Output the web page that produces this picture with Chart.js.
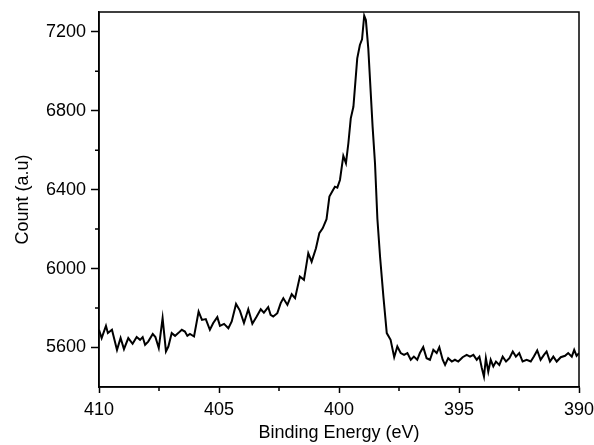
<!DOCTYPE html>
<html>
<head>
<meta charset="utf-8">
<script src="https://cdn.jsdelivr.net/npm/chart.js@4"></script>
<style>
  html, body { margin: 0; padding: 0; background: #fff; }
  #wrap { width: 594px; height: 445px; }
</style>
</head>
<body>
<div id="wrap"><canvas id="xps-chart" width="594" height="445"></canvas></div>
<script>
// binding energy (eV) and counts
const energies = [
  410.00, 409.89, 409.71, 409.63, 409.46, 409.25, 409.10, 408.96, 408.78, 408.60,
  408.43, 408.29, 408.18, 408.08, 407.95, 407.76, 407.65, 407.51, 407.35, 407.21,
  407.11, 406.97, 406.83, 406.70, 406.55, 406.42, 406.32, 406.21, 406.04, 405.85,
  405.71, 405.55, 405.38, 405.24, 405.07, 404.96, 404.79, 404.61, 404.47, 404.29,
  404.13, 403.96, 403.78, 403.61, 403.43, 403.26, 403.13, 402.95, 402.85, 402.74,
  402.57, 402.43, 402.32, 402.15, 401.97, 401.83, 401.63, 401.46, 401.28, 401.14,
  400.96, 400.82, 400.68, 400.52, 400.40, 400.26, 400.17, 400.07, 399.96, 399.82,
  399.71, 399.61, 399.51, 399.40, 399.24, 399.13, 399.04, 398.95, 398.88, 398.78,
  398.60, 398.50, 398.40, 398.29, 398.15, 398.01, 397.85, 397.70, 397.57, 397.43,
  397.29, 397.15, 397.01, 396.88, 396.74, 396.63, 396.49, 396.35, 396.21, 396.07,
  395.93, 395.82, 395.68, 395.58, 395.45, 395.30, 395.17, 395.03, 394.85, 394.68,
  394.54, 394.40, 394.26, 394.15, 394.05, 393.96, 393.88, 393.78, 393.68, 393.57,
  393.46, 393.32, 393.18, 393.04, 392.90, 392.76, 392.63, 392.49, 392.35, 392.18,
  392.01, 391.88, 391.74, 391.60, 391.46, 391.35, 391.21, 391.07, 390.93, 390.76,
  390.58, 390.45, 390.30, 390.20, 390.10, 390.00
];
const counts = [
  5690, 5648, 5710, 5674, 5690, 5588, 5648, 5592, 5648, 5619,
  5653, 5639, 5653, 5614, 5630, 5669, 5653, 5597, 5749, 5580,
  5605, 5673, 5659, 5673, 5690, 5681, 5659, 5669, 5656, 5782,
  5740, 5744, 5690, 5724, 5754, 5710, 5720, 5698, 5732, 5821,
  5787, 5724, 5794, 5720, 5757, 5794, 5777, 5805, 5766, 5757,
  5774, 5825, 5850, 5816, 5870, 5850, 5960, 5943, 6078, 6035,
  6103, 6179, 6204, 6250, 6365, 6395, 6415, 6410, 6449, 6571,
  6534, 6635, 6761, 6820, 7065, 7133, 7162, 7281, 7259, 7116,
  6719, 6534, 6251, 6061, 5858, 5673, 5639, 5551, 5605, 5572,
  5563, 5572, 5538, 5554, 5538, 5572, 5602, 5546, 5538, 5588,
  5572, 5602, 5538, 5512, 5546, 5529, 5538, 5529, 5551, 5563,
  5554, 5563, 5538, 5554, 5496, 5453, 5546, 5478, 5538, 5504,
  5529, 5512, 5554, 5529, 5546, 5580, 5554, 5572, 5529, 5538,
  5529, 5554, 5585, 5538, 5563, 5580, 5529, 5554, 5529, 5551,
  5558, 5572, 5554, 5588, 5558, 5572
];
const xTicks = [410, 405, 400, 395, 390];
const xMinorTicks = [407.5, 402.5, 397.5, 392.5];
const yTicks = [5600, 6000, 6400, 6800, 7200];
const yMinorTicks = [5800, 6200, 6600, 7000];

const font = { family: "'Liberation Sans', Arial, sans-serif", size: 18 };

// minor ticks + closed frame
const framePlugin = {
  id: "frame",
  afterDraw(chart) {
    const ctx = chart.ctx;
    const a = chart.chartArea;
    const xs = chart.scales.x;
    const ys = chart.scales.y;
    ctx.save();
    ctx.strokeStyle = "#000";
    ctx.lineWidth = 1.5;
    ctx.beginPath();
    xMinorTicks.forEach((v) => {
      const px = xs.getPixelForValue(v);
      ctx.moveTo(px, a.bottom);
      ctx.lineTo(px, a.bottom + 4);
    });
    yMinorTicks.forEach((v) => {
      const py = ys.getPixelForValue(v);
      ctx.moveTo(a.left, py);
      ctx.lineTo(a.left - 4, py);
    });
    ctx.stroke();
    ctx.strokeRect(a.left, a.top, a.right - a.left, a.bottom - a.top);
    ctx.restore();
  },
};

const data = {
  datasets: [
    {
      data: energies.map((e, i) => ({ x: e, y: counts[i] })),
      borderColor: "#000",
      borderWidth: 2,
      pointRadius: 0,
      tension: 0,
      fill: false,
    },
  ],
};

const config = {
  type: "line",
  data: data,
  options: {
    responsive: false,
    animation: false,
    layout: { padding: { top: 12, right: 15, left: 0, bottom: 0 } },
    plugins: {
      legend: { display: false },
      tooltip: { enabled: false },
    },
    scales: {
      x: {
        type: "linear",
        reverse: true,
        min: 390,
        max: 410,
        afterFit: (scale) => {
          scale.height = 58;
          scale.paddingLeft = 0;
          scale.paddingRight = 0;
        },
        afterBuildTicks: (scale) => { scale.ticks = xTicks.map((v) => ({ value: v })); },
        grid: { drawOnChartArea: false, tickLength: 6, tickColor: "#000", tickWidth: 1.5 },
        border: { color: "#000", width: 1.5 },
        ticks: { color: "#000", font: font, padding: 6, maxRotation: 0, callback: (v) => String(v) },
        title: {
          display: true,
          text: "Binding Energy (eV)",
          color: "#000",
          font: font,
          padding: { top: 0, bottom: 1 },
        },
      },
      y: {
        min: 5400,
        max: 7300,
        afterFit: (scale) => {
          scale.width = 99;
          scale.paddingTop = 0;
          scale.paddingBottom = 0;
        },
        afterBuildTicks: (scale) => { scale.ticks = yTicks.map((v) => ({ value: v })); },
        grid: { drawOnChartArea: false, tickLength: 8, tickColor: "#000", tickWidth: 1.5 },
        border: { color: "#000", width: 1.5 },
        ticks: { color: "#000", font: font, padding: 5, callback: (v) => String(v) },
        title: {
          display: true,
          text: "Count (a.u)",
          color: "#000",
          font: font,
          padding: { top: 12, bottom: 0 },
        },
      },
    },
  },
  plugins: [framePlugin],
};

new Chart(document.getElementById("xps-chart"), config);
</script>
</body>
</html>
